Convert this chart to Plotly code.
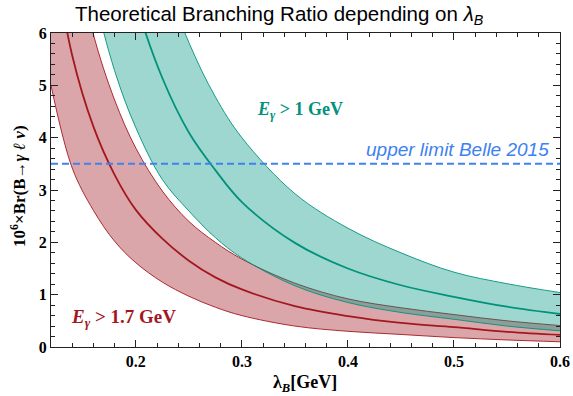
import plotly.graph_objects as go

# lambda_B grid [GeV]
lam = [0.12, 0.14, 0.16, 0.18, 0.20, 0.225, 0.25, 0.275, 0.30, 0.35, 0.40, 0.45, 0.50, 0.55, 0.60]

# E_gamma > 1.7 GeV band (10^6 x Br)
red_lower  = [5.0, 3.42, 2.61, 2.02, 1.61, 1.24, 0.97, 0.76, 0.60, 0.40, 0.30, 0.24, 0.18, 0.135, 0.10]
red_center = [7.8, 5.57, 4.21, 3.29, 2.62, 2.07, 1.65, 1.33, 1.10, 0.78, 0.59, 0.46, 0.38, 0.29, 0.23]
red_upper  = [10.6, 7.8, 5.97, 4.72, 3.80, 2.98, 2.40, 2.00, 1.68, 1.22, 0.92, 0.75, 0.62, 0.50, 0.41]

# E_gamma > 1 GeV band
teal_lower  = [12.9, 9.2, 6.84, 5.28, 4.19, 3.20, 2.60, 2.09, 1.70, 1.17, 0.85, 0.66, 0.53, 0.40, 0.31]
teal_center = [19.3, 13.9, 10.5, 8.2, 6.59, 5.14, 4.10, 3.38, 2.77, 1.99, 1.50, 1.18, 0.96, 0.77, 0.63]
teal_upper  = [26.0, 19.2, 14.6, 11.4, 9.2, 7.2, 5.82, 4.78, 4.00, 2.93, 2.27, 1.80, 1.43, 1.21, 1.04]

belle_limit = 3.5
x_ticks = [0.2, 0.3, 0.4, 0.5, 0.6]
y_ticks = [0, 1, 2, 3, 4, 5, 6]

RED_LINE = "#a3181f"
RED_FILL = "rgba(160,20,30,0.38)"
TEAL_LINE = "#00927c"
TEAL_FILL = "rgba(0,150,130,0.38)"
BLUE = "#3d82f0"

fig = go.Figure()
common = dict(mode="lines", line_shape="spline", hoverinfo="skip", showlegend=False)

fig.add_trace(go.Scatter(x=lam, y=red_lower, line=dict(color=RED_LINE, width=0.9), **common))
fig.add_trace(go.Scatter(x=lam, y=red_upper, line=dict(color=RED_LINE, width=0.9),
                         fill="tonexty", fillcolor=RED_FILL, **common))
fig.add_trace(go.Scatter(x=lam, y=teal_lower, line=dict(color=TEAL_LINE, width=0.9), **common))
fig.add_trace(go.Scatter(x=lam, y=teal_upper, line=dict(color=TEAL_LINE, width=0.9),
                         fill="tonexty", fillcolor=TEAL_FILL, **common))
fig.add_trace(go.Scatter(x=lam, y=red_center, line=dict(color=RED_LINE, width=1.8), **common))
fig.add_trace(go.Scatter(x=lam, y=teal_center, line=dict(color=TEAL_LINE, width=1.8), **common))
fig.add_trace(go.Scatter(x=[lam[0], lam[-1]], y=[belle_limit, belle_limit], mode="lines",
                         line=dict(color=BLUE, width=2, dash="7px,4px"),
                         hoverinfo="skip", showlegend=False))

serif = "Liberation Serif"
sans = "Liberation Sans"

L, R, T, B = 51, 13, 33, 49
W, H = 573, 396
PW, PH = W - L - R, H - T - B

def px_x(px):
    return (px - L) / PW

def px_y(py):
    return (H - B - py) / PH

axis_common = dict(
    ticks="inside", ticklen=7, tickwidth=1, tickcolor="#222",
    showline=True, linecolor="#222", linewidth=1, mirror="ticks",
    showgrid=False, zeroline=False, automargin=False,
    tickfont=dict(family=serif, size=16, color="black", weight="bold"),
)

fig.update_layout(
    width=W, height=H,
    margin=dict(l=L, r=R, t=T, b=B, autoexpand=False),
    paper_bgcolor="white", plot_bgcolor="white",
    xaxis=dict(range=[0.12, 0.6], tickvals=x_ticks, ticktext=[f"{v:.1f}" for v in x_ticks],
               minor=dict(dtick=0.02, tick0=0, ticks="inside", ticklen=4, tickcolor="#222"),
               **axis_common),
    yaxis=dict(range=[0, 6], tickvals=y_ticks,
               minor=dict(dtick=0.2, tick0=0, ticks="inside", ticklen=4, tickcolor="#222"),
               **axis_common),
    annotations=[
        # title
        dict(x=px_x(279), y=px_y(15), xref="paper", yref="paper", showarrow=False,
             xanchor="center", yanchor="middle",
             text="Theoretical Branching Ratio depending on <i>λ</i><sub><i>B</i></sub>",
             font=dict(family=sans, size=20.5, color="black")),
        # x axis title
        dict(x=px_x(305), y=px_y(383), xref="paper", yref="paper", showarrow=False,
             xanchor="center", yanchor="middle",
             text="λ<sub><i>B</i></sub>[GeV]",
             font=dict(family=serif, size=18, color="black", weight="bold")),
        # y axis title
        dict(x=px_x(18), y=px_y(186), xref="paper", yref="paper", showarrow=False,
             xanchor="center", yanchor="middle", textangle=-90,
             text="10<sup>6</sup>×Br(B→<i>γ</i> <i>ℓ</i> <i>ν</i>)",
             font=dict(family=serif, size=17, color="black", weight="bold")),
        dict(x=0.355, y=4.52, xref="x", yref="y", showarrow=False,
             xanchor="center", yanchor="middle",
             text="<i>E</i><sub><i>γ</i></sub> > 1 GeV",
             font=dict(family=serif, size=18, color=TEAL_LINE, weight="bold")),
        dict(x=0.188, y=0.55, xref="x", yref="y", showarrow=False,
             xanchor="center", yanchor="middle",
             text="<i>E</i><sub><i>γ</i></sub> > 1.7 GeV",
             font=dict(family=serif, size=19, color=RED_LINE, weight="bold")),
        dict(x=0.5917, y=belle_limit + 0.04, xref="x", yref="y", showarrow=False,
             xanchor="right", yanchor="bottom",
             text="<i>upper limit Belle 2015</i>",
             font=dict(family=sans, size=19, color=BLUE)),
    ],
)

fig.write_html("out.html")
